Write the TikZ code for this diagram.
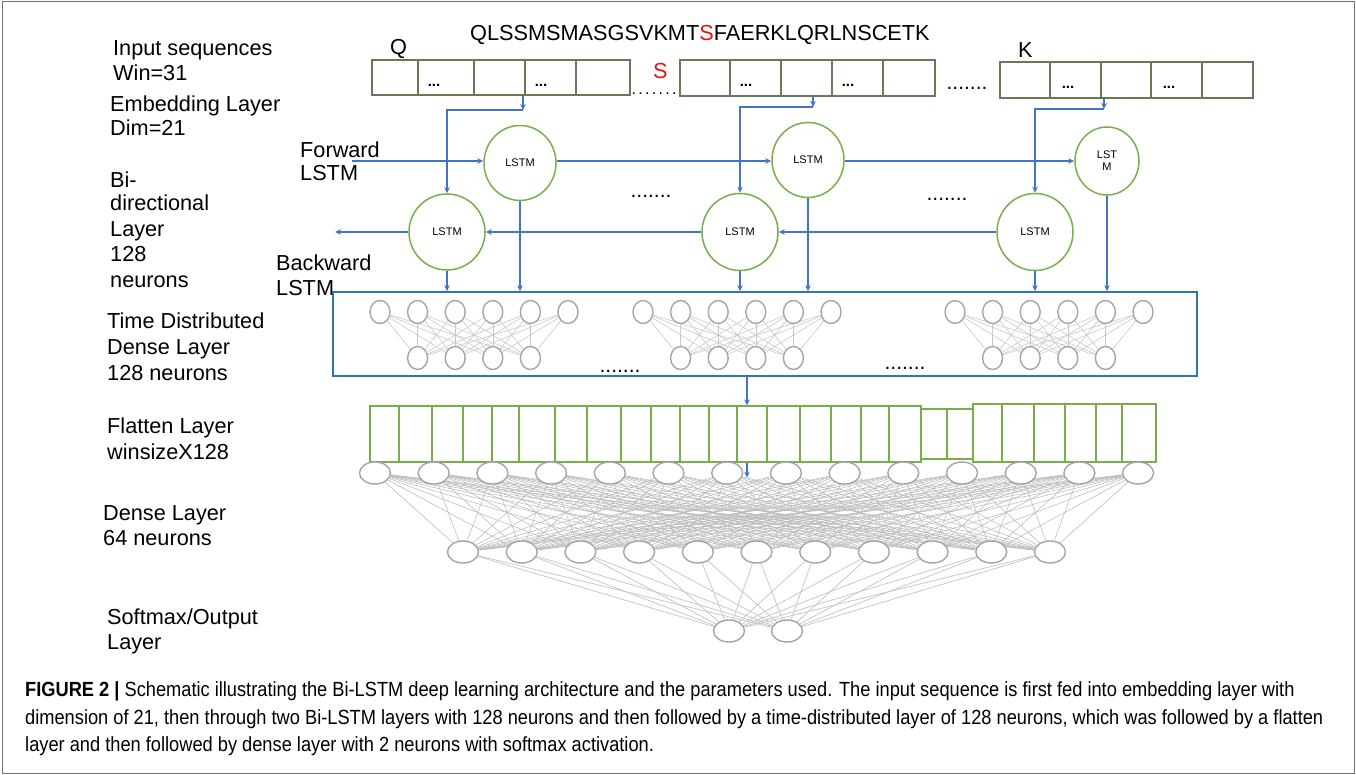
\documentclass[tikz,border=0pt]{standalone}
\usepackage{fontspec}
\setmainfont{Liberation Sans}
\newfontfamily\capfont[FakeStretch=0.89]{Liberation Sans}
\usetikzlibrary{arrows.meta,backgrounds,shapes.geometric}
\definecolor{arrblue}{RGB}{68,114,196}
\definecolor{lgreen}{RGB}{120,175,75}
\definecolor{boxgreen}{RGB}{105,120,85}
\definecolor{tdblue}{RGB}{46,117,182}
\definecolor{ngray}{RGB}{165,165,165}
\definecolor{egray}{RGB}{200,200,200}
\definecolor{seqred}{RGB}{225,20,20}
\newcommand{\sdots}{.\kern2.3pt.\kern2.3pt.\kern2.3pt.\kern2.3pt.\kern2.3pt.\kern2.3pt.}
\begin{document}
\begin{tikzpicture}[x=1pt,y=-1pt,
  lab/.style={anchor=base west, inner sep=0pt, font=\fontsize{21.7}{24}\selectfont},
  dotrow/.style={anchor=base, inner sep=0pt, font=\fontsize{21}{22}\selectfont},
  cdots/.style={anchor=base, inner sep=0pt, font=\bfseries\fontsize{15}{16}\selectfont},
  inbox/.style={draw=boxgreen, line width=1.1pt, inner sep=0pt},
  lstm/.style={ellipse, draw=lgreen, line width=1.5pt, inner sep=0pt, minimum width=72pt, minimum height=75pt, font=\fontsize{11}{12}\selectfont, align=center},
  flow/.style={draw=arrblue, line width=1.4pt, -{Stealth[length=6pt,width=5.5pt]}},
  neur/.style={ellipse, draw=ngray, fill=white, line width=1.4pt, inner sep=0pt},
  tdn/.style={neur, minimum width=20pt, minimum height=23pt},
  dn/.style={neur, minimum width=31pt, minimum height=22pt},
  nedge/.style={draw=egray, line width=0.6pt},
  fcell/.style={draw=lgreen, line width=1.2pt, inner sep=0pt},
  captext/.style={anchor=base west, inner sep=0pt, font=\capfont\fontsize{20.5}{22}\selectfont}
]
\useasboundingbox (0,0) rectangle (1356,775);
\draw[black!55, line width=1pt] (2,2) rectangle (1354,773);

% ---------- left labels ----------
\node[lab] (l1) at (113,56) {Input sequences};
\node[lab] (l2) at (113,81) {Win=31};
\node[lab] (l3) at (110,112) {Embedding Layer};
\node[lab] (l4) at (110,136) {Dim=21};
\node[lab] (l5) at (110,188) {Bi-};
\node[lab] (l6) at (110,211) {directional};
\node[lab] (l7) at (110,237) {Layer};
\node[lab] (l8) at (110,262) {128};
\node[lab] (l9) at (110,288) {neurons};
\node[lab] (l10) at (107,328) {Time Distributed};
\node[lab] (l11) at (107,354) {Dense Layer};
\node[lab] (l12) at (107,380) {128 neurons};
\node[lab] (l13) at (107,433) {Flatten Layer};
\node[lab] (l14) at (107,459) {winsizeX128};
\node[lab] (l15) at (103,520) {Dense Layer};
\node[lab] (l16) at (103,545) {64 neurons};
\node[lab] (l17) at (107,624) {Softmax/Output};
\node[lab] (l18) at (107,649) {Layer};
\node[lab] (fw1) at (300,158) {Forward};
\node[lab] (fw2) at (300,181) {LSTM};
\node[lab] (bw1) at (276,271) {Backward};
\node[lab] (bw2) at (276,296) {LSTM};

% ---------- sequence ----------
\node[lab] (seq) at (470,41) {QLSSMSMASGSVKMT\textcolor{seqred}{S}FAERKLQRLNSCETK};
\node[lab] (qq) at (390,55) {Q};
\node[lab] (kk) at (1018,58) {K};
\node[lab, text=seqred] (ss) at (653,79) {S};

% ---------- input boxes ----------
\node[inbox, minimum width=258pt, minimum height=35pt] (in1) at (501,77.5) {};
\node[inbox, minimum width=255pt, minimum height=36pt] (in2) at (807.5,78) {};
\node[inbox, minimum width=253pt, minimum height=36pt] (in3) at (1126.5,80) {};
\foreach \x in {418,474,525,576} \draw[boxgreen, line width=1.1pt] (\x,0 |- in1.north) -- (\x,0 |- in1.south);
\foreach \x in {730,781,832,883} \draw[boxgreen, line width=1.1pt] (\x,0 |- in2.north) -- (\x,0 |- in2.south);
\foreach \x in {1050,1101,1151,1202} \draw[boxgreen, line width=1.1pt] (\x,0 |- in3.north) -- (\x,0 |- in3.south);
\node[cdots] (d1) at (434,87) {...};
\node[cdots] (d2) at (541,87) {...};
\node[cdots] (d3) at (746,87) {...};
\node[cdots] (d4) at (848,87) {...};
\node[cdots] (d5) at (1068,89) {...};
\node[cdots] (d6) at (1169,89) {...};
\node[dotrow, font=\fontsize{16}{18}\selectfont] (r1) at (654,95) {\sdots};
\node[dotrow] (r2) at (967,90) {.......};

% ---------- LSTM cells ----------
\node[lstm] (f1) at (520,163) {LSTM};
\node[lstm] (f2) at (808,160) {LSTM};
\node[lstm, minimum width=64pt, minimum height=68pt] (f3) at (1107,161) {LST\\M};
\node[lstm, minimum width=76pt, minimum height=76pt] (b1) at (447,232) {LSTM};
\node[lstm, minimum width=76pt, minimum height=77pt] (b2) at (740,232) {LSTM};
\node[lstm, minimum width=76pt, minimum height=77pt] (b3) at (1035,232) {LSTM};
\node[dotrow] (ld1) at (651,198) {.......};
\node[dotrow] (ld2) at (947,201) {.......};

\coordinate (fin) at (352,161);
\coordinate (bout) at (335,232);
\draw[flow] (fin) -- (f1.west |- fin);
\draw[flow] (f1.east |- fin) -- (f2.west |- fin);
\draw[flow] (f2.east |- fin) -- (f3.west |- fin);
\draw[flow] (b3) -- (b2);
\draw[flow] (b2) -- (b1);
\draw[flow] (b1) -- (bout);

\coordinate (j1) at (523,110);
\coordinate (j2) at (813,107);
\coordinate (j3) at (1104,109);
\draw[flow] (in1.south -| j1) -- (j1);
\draw[flow] (in2.south -| j2) -- (j2);
\draw[flow] (in3.south -| j3) -- (j3);
\draw[flow] (j1) -| (b1);
\draw[flow] (j2) -| (b2);
\draw[flow] (j3) -| (b3);

% ---------- time distributed box ----------
\node[draw=tdblue, line width=1.6pt, minimum width=864pt, minimum height=84pt, inner sep=0pt] (td) at (765,334) {};
\foreach \n in {b1,f1,b2,f2,b3,f3} \draw[flow] (\n) -- (\n |- td.north);

\foreach \g/\gx in {1/380,2/643,3/955} {
  \foreach \i in {0,...,5} \node[tdn] (g\g t\i) at ({\gx+\i*37.6},312) {};
  \foreach \j in {1,...,4} \node[tdn] (g\g b\j) at ({\gx+\j*37.6},358) {};
}
\begin{scope}[on background layer]
\foreach \g in {1,2,3} \foreach \i in {0,...,5} \foreach \j in {1,...,4}
  \draw[nedge] (g\g t\i) -- (g\g b\j);
\end{scope}
\node[dotrow] (td1) at (620,372) {.......};
\node[dotrow] (td2) at (905,369) {.......};

% ---------- flatten layer ----------
\node[fcell, minimum width=551pt, minimum height=56pt] (fla) at (645.5,434) {};
\node[fcell, minimum width=52pt, minimum height=50pt] (flb) at (947,434) {};
\node[fcell, minimum width=183pt, minimum height=58pt] (flc) at (1064.5,433) {};
\foreach \x in {399,432,463,492,519,555,587,621,651,680,709,737,767,800,831,861,889}
  \draw[lgreen, line width=1.2pt] (\x,0 |- fla.north) -- (\x,0 |- fla.south);
\draw[lgreen, line width=1.2pt] (947,0 |- flb.north) -- (947,0 |- flb.south);
\foreach \x in {1002,1034,1065,1096,1122}
  \draw[lgreen, line width=1.2pt] (\x,0 |- flc.north) -- (\x,0 |- flc.south);
\coordinate (cx) at (747,0);
\draw[flow] (td.south -| cx) -- (fla.north -| cx);

% ---------- dense layers ----------
\foreach \i in {1,...,14} \node[dn] (t\i) at ({375+(\i-1)*58.7},473) {};
\foreach \j in {1,...,11} \node[dn] (m\j) at ({463+(\j-1)*58.7},552) {};
\node[dn] (o1) at (729,631) {};
\node[dn] (o2) at (787,631) {};
\begin{scope}[on background layer]
\foreach \i in {1,...,14} \foreach \j in {1,...,11} \draw[nedge, draw=black!27, line width=0.55pt] (t\i) -- (m\j);
\foreach \j in {1,...,11} \foreach \k in {1,2} \draw[nedge, line width=0.8pt] (m\j) -- (o\k);
\end{scope}
\draw[flow] (fla.south -| cx) -- ++(0,15);

% ---------- caption ----------
\node[captext] (c1) at (25,696) {\textbf{FIGURE 2 |} Schematic illustrating the Bi-LSTM deep learning architecture and the parameters used. The input sequence is first fed into embedding layer with};
\node[captext] (c2) at (25,724) {dimension of 21, then through two Bi-LSTM layers with 128 neurons and then followed by a time-distributed layer of 128 neurons, which was followed by a flatten};
\node[captext] (c3) at (25,751) {layer and then followed by dense layer with 2 neurons with softmax activation.};
\end{tikzpicture}
\end{document}
